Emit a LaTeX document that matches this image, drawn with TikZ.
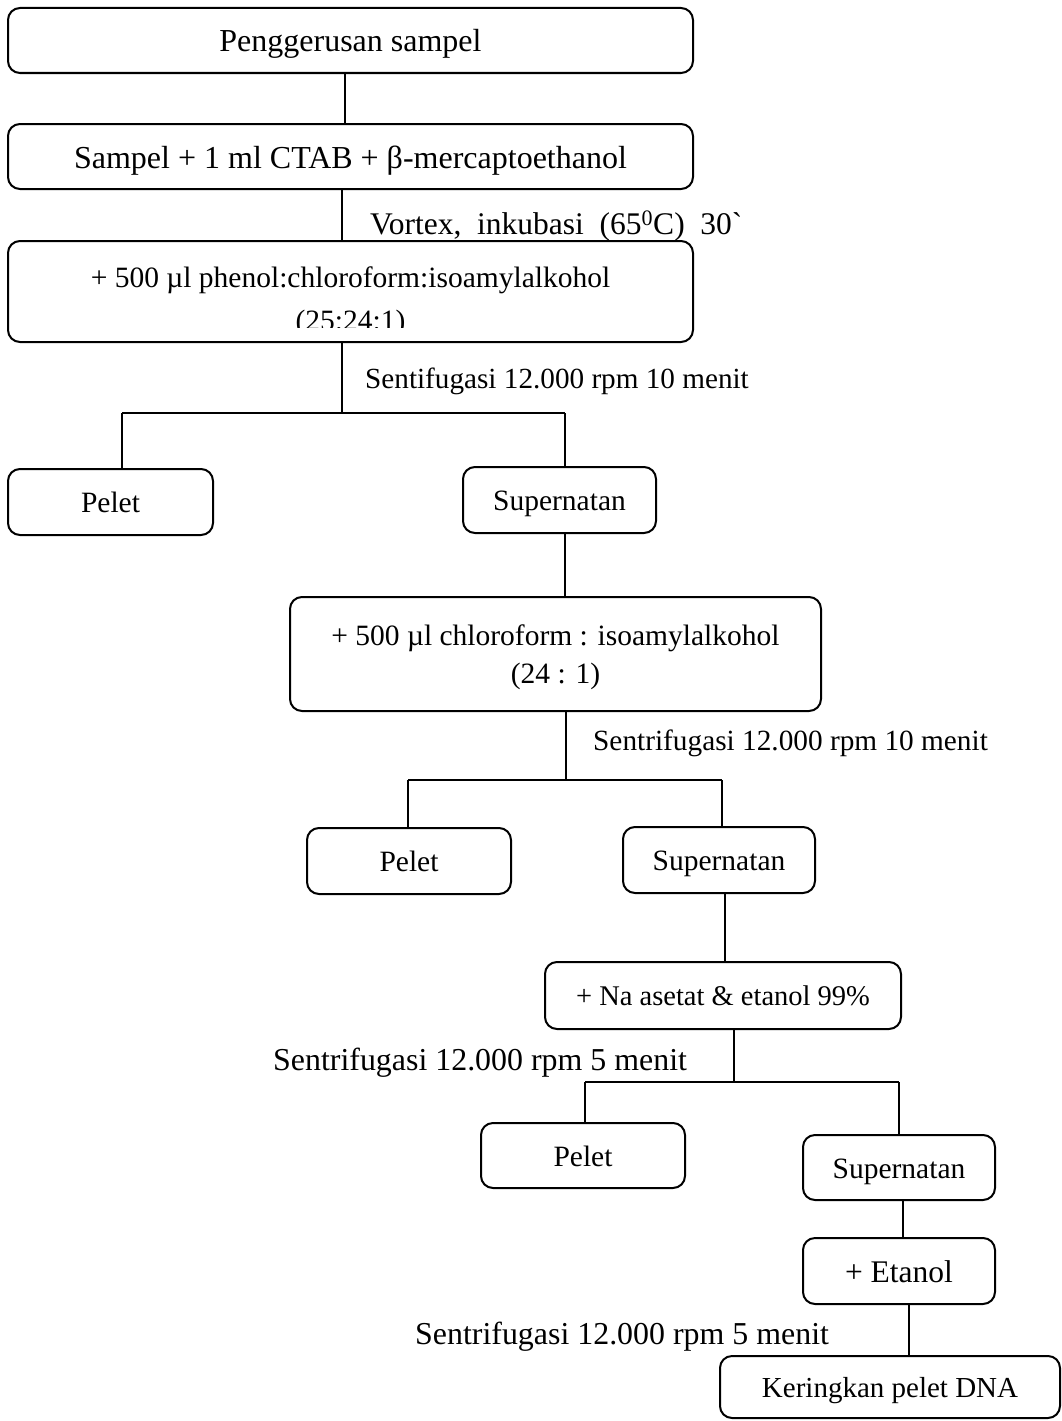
\documentclass[tikz,border=0pt]{standalone}
\usepackage{fontspec}
\setmainfont{Liberation Serif}[Ligatures=TeXOff]
\begin{document}
\begin{tikzpicture}[x=1pt,y=-1pt,
  box/.style={draw,line width=2pt,rounded corners=12pt,inner sep=0pt,align=center,text depth=0pt},
  big/.style={font=\fontsize{32}{38}\selectfont,text height=23pt},
  mid/.style={font=\fontsize{29.5}{38}\selectfont,text height=21.2pt},
  midt/.style={font=\fontsize{29.5}{38}\selectfont},
  lbl/.style={anchor=west,inner sep=0pt},
  con/.style={line width=1.1pt}]
\useasboundingbox (0,0) rectangle (1062,1421);
% boxes
\node[box,big,minimum width=685pt,minimum height=65pt] (b1) at (350.5,40.5) {Penggerusan sampel};
\node[box,big,minimum width=685pt,minimum height=65pt] (b2) at (350.5,156.5) {Sampel + 1 ml CTAB + β-mercaptoethanol};
\node[box,minimum width=685pt,minimum height=101pt] (b3) at (350.5,291.5) {};
\node[midt,anchor=base,inner sep=0pt] (t3a) at (350.5,287) {+ 500 µl phenol:chloroform:isoamylalkohol};
\begin{scope}
\clip (10,243) rectangle (690,327);
\node[midt,anchor=base,inner sep=0pt] (t3b) at (350.5,330) {(25:24:1)};
\end{scope}
\node[box,mid,minimum width=205pt,minimum height=66pt] (p1) at (110.5,502) {Pelet};
\node[box,mid,minimum width=193pt,minimum height=66pt] (s1) at (559.5,500) {Supernatan};
\node[box,minimum width=531pt,minimum height=114pt] (b4) at (555.5,654) {};
\node[midt,anchor=base,inner sep=0pt] (t4a) at (555.5,645) {+ 500 µl chloroform : isoamylalkohol};
\node[midt,anchor=base,inner sep=0pt] (t4b) at (555.5,683) {(24 : 1)};
\node[box,mid,minimum width=204pt,minimum height=66pt] (p2) at (409,861) {Pelet};
\node[box,mid,minimum width=192pt,minimum height=66pt] (s2) at (719,860) {Supernatan};
\node[box,font=\fontsize{28.5}{34}\selectfont,text height=20.5pt,minimum width=356pt,minimum height=67pt] (b5) at (723,995.5) {+ Na asetat \& etanol 99\%};
\node[box,mid,minimum width=204pt,minimum height=65pt] (p3) at (583,1155.5) {Pelet};
\node[box,mid,minimum width=192pt,minimum height=65pt] (s3) at (899,1167.5) {Supernatan};
\node[box,font=\fontsize{31.5}{38}\selectfont,text height=22.7pt,minimum width=192pt,minimum height=66pt] (b6) at (899,1271) {+ Etanol};
\node[box,font=\fontsize{29}{34}\selectfont,text height=21pt,minimum width=340pt,minimum height=62pt] (b7) at (890,1387) {Keringkan pelet DNA};
% labels
\node[lbl,font=\fontsize{31.5}{38}\selectfont] (l1) at (370,226) {Vortex,\ \ inkubasi\ \ (65\textsuperscript{0}C)\ \ 30\char96};
\node[lbl,font=\fontsize{29.2}{34}\selectfont] (l2) at (365,381) {Sentifugasi 12.000 rpm 10 menit};
\node[lbl,font=\fontsize{29.3}{34}\selectfont] (l3) at (593,743) {Sentrifugasi 12.000 rpm 10 menit};
\node[lbl,font=\fontsize{31.9}{38}\selectfont] (l4) at (273,1063) {Sentrifugasi 12.000 rpm 5 menit};
\node[lbl,font=\fontsize{31.9}{38}\selectfont] (l5) at (415,1337) {Sentrifugasi 12.000 rpm 5 menit};
% connector x positions and junctions
\coordinate (c1) at (345,0);
\coordinate (c2) at (342,0);
\coordinate (j1) at (342,413);
\coordinate (j1l) at (122,413);
\coordinate (j1r) at (565,413);
\coordinate (j2) at (566,780);
\coordinate (j2l) at (408,780);
\coordinate (j2r) at (722,780);
\coordinate (c3) at (725,0);
\coordinate (j3) at (734,1082);
\coordinate (j3l) at (585,1082);
\coordinate (j3r) at (899,1082);
\coordinate (c4) at (903,0);
\coordinate (c5) at (909,0);
% connectors
\draw[con] (b1.south -| c1) -- (b2.north -| c1);
\draw[con] (b2.south -| c2) -- (b3.north -| c2);
\draw[con] (b3.south -| j1) -- (j1);
\draw[con] (j1l) -- (j1r);
\draw[con] (j1l) -- (p1.north -| j1l);
\draw[con] (j1r) -- (s1.north -| j1r);
\draw[con] (s1.south -| j1r) -- (b4.north -| j1r);
\draw[con] (b4.south -| j2) -- (j2);
\draw[con] (j2l) -- (j2r);
\draw[con] (j2l) -- (p2.north -| j2l);
\draw[con] (j2r) -- (s2.north -| j2r);
\draw[con] (s2.south -| c3) -- (b5.north -| c3);
\draw[con] (b5.south -| j3) -- (j3);
\draw[con] (j3l) -- (j3r);
\draw[con] (j3l) -- (p3.north -| j3l);
\draw[con] (j3r) -- (s3.north -| j3r);
\draw[con] (s3.south -| c4) -- (b6.north -| c4);
\draw[con] (b6.south -| c5) -- (b7.north -| c5);
\end{tikzpicture}
\end{document}
